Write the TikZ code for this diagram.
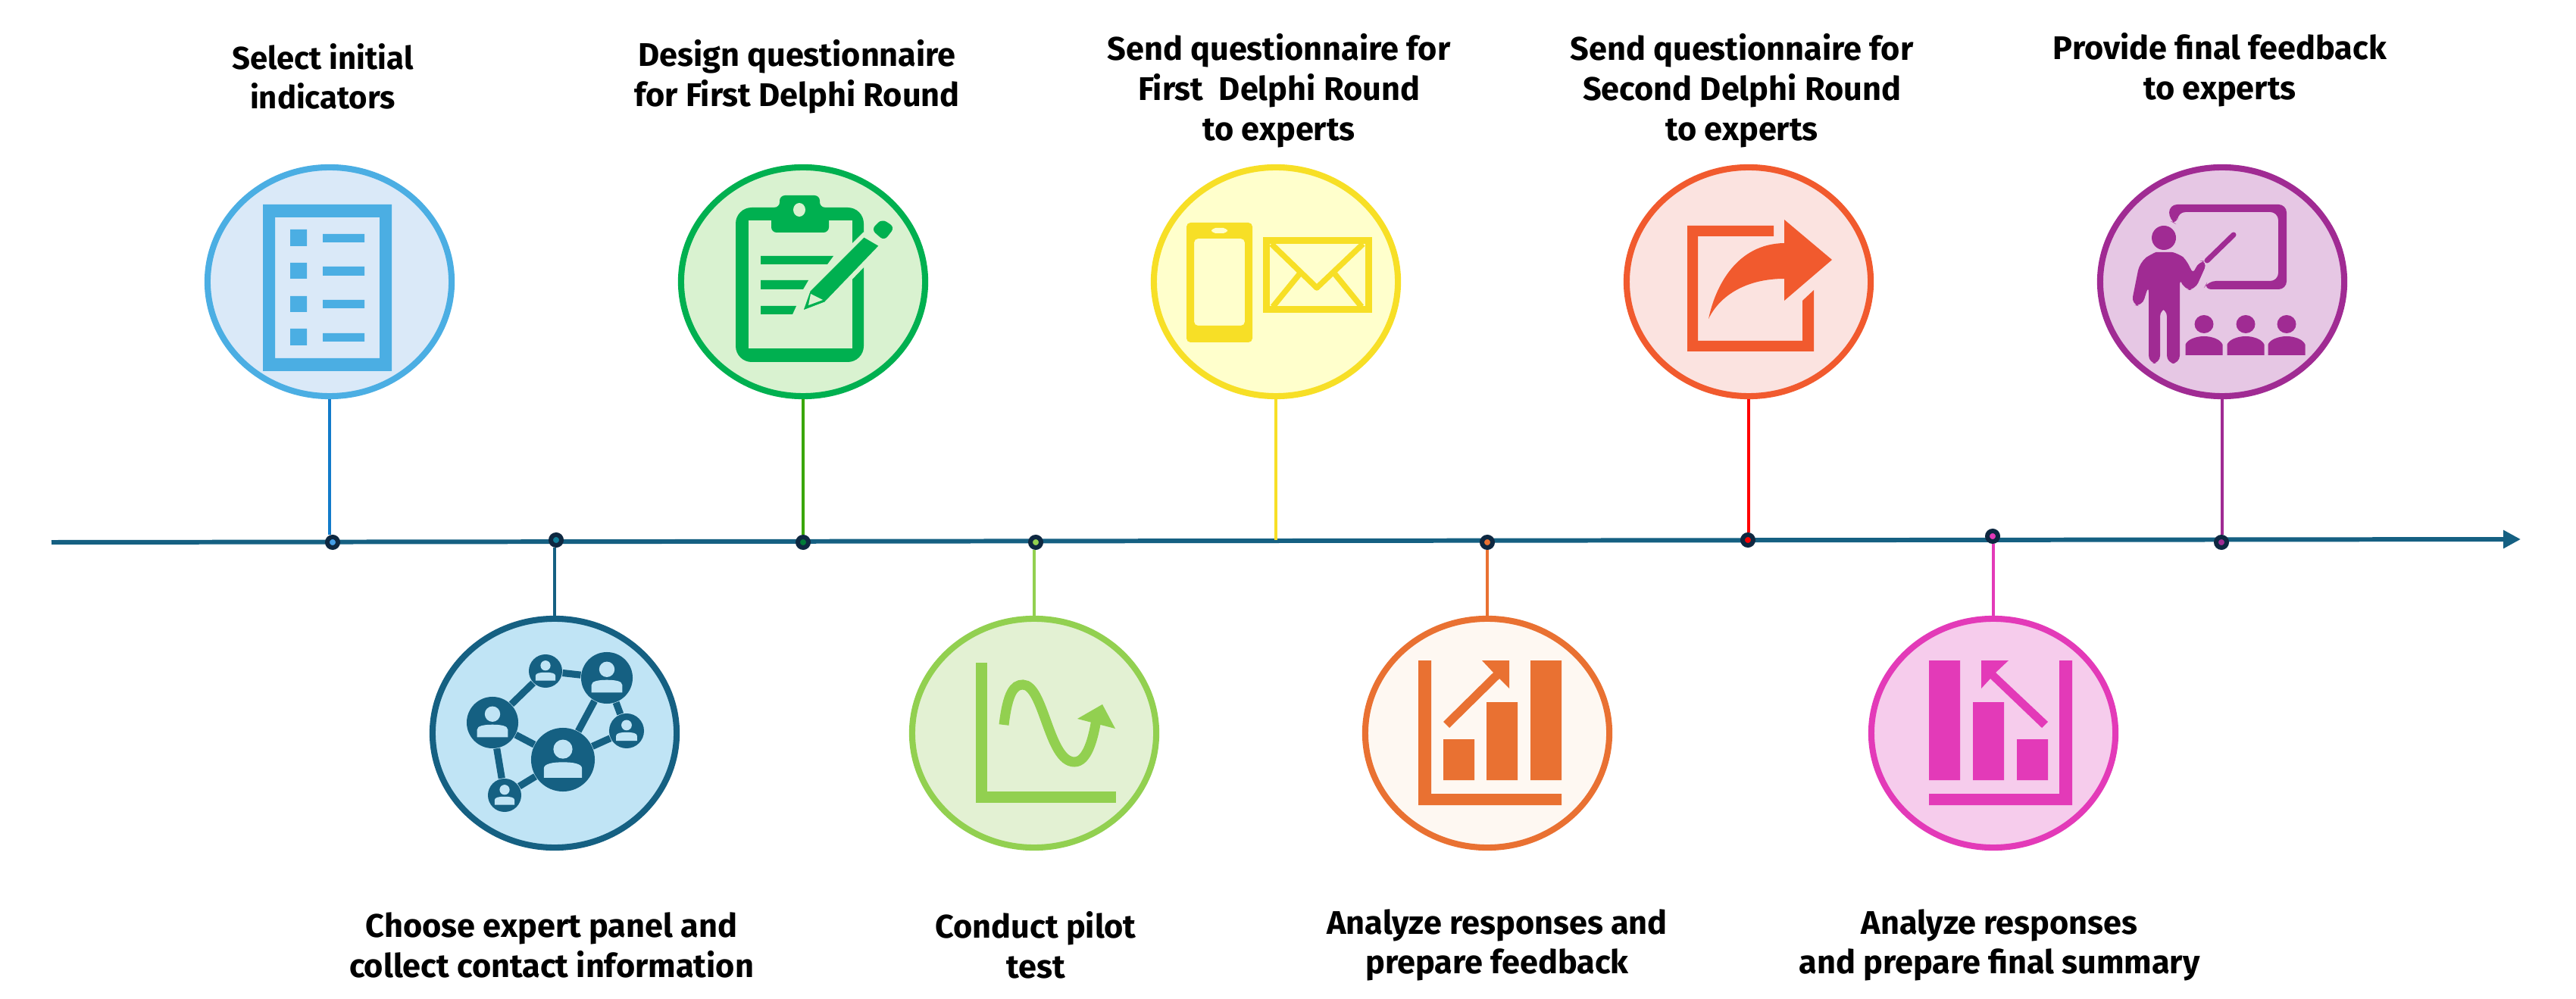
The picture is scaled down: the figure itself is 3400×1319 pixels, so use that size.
\documentclass[tikz,border=0pt]{standalone}
\usepackage{fontspec}
\setmainfont{Fira Sans}
\usetikzlibrary{shapes.geometric,arrows.meta,positioning,calc}
\definecolor{axisblue}{HTML}{156082}
\definecolor{navy}{HTML}{0E2841}
\definecolor{cA}{HTML}{4BAEE3}
\definecolor{cB}{HTML}{156082}
\definecolor{cC}{HTML}{00B050}
\definecolor{cD}{HTML}{92D050}
\definecolor{cE}{HTML}{F7DF26}
\definecolor{cF}{HTML}{E97132}
\definecolor{cG}{HTML}{F15A2E}
\definecolor{cH}{HTML}{E33AB8}
\definecolor{cI}{HTML}{A02B93}
\definecolor{bgA}{HTML}{DAE9F8}
\definecolor{bgB}{HTML}{C0E4F5}
\definecolor{bgC}{HTML}{D9F2D0}
\definecolor{bgD}{HTML}{E3F1D3}
\definecolor{bgE}{HTML}{FFFFCC}
\definecolor{bgF}{HTML}{FEF8F2}
\definecolor{bgG}{HTML}{FBE3E0}
\definecolor{bgH}{HTML}{F6CCEC}
\definecolor{bgI}{HTML}{E6C7E4}
\begin{document}
\begin{tikzpicture}[x=0.01cm, y=-0.01cm,
  stp/.style 2 args={ellipse, draw=#1, fill=#2, line width=2.3pt, minimum width=3.22cm, minimum height=3.02cm, inner sep=0pt},
  dot/.style={circle, draw=navy, fill=#1, line width=1.7pt, minimum size=0.14cm, inner sep=0pt},
  lbl/.style={align=center, font=\fontsize{12.3}{15}\selectfont\bfseries, inner sep=0pt},
  stem/.style={line width=1.35pt, #1},
  arr/.style={-{Stealth[length=2.3mm, width=2.3mm, inset=0pt]}, axisblue, line width=1.7pt},
  net/.style={circle, fill=cB, inner sep=0pt, minimum size=#1 cm},
  link/.style={cB, line width=2.6pt},
  person/.pic={
    \fill[bgB] (0,-33) circle[radius=30];
    \fill[bgB] (-60,57) -- (-60,28) .. controls (-60,12) and (-30,8) .. (0,8) .. controls (30,8) and (60,12) .. (60,28) -- (60,57) -- cycle;
  }
]
  \useasboundingbox (0,0) rectangle (3400,1319);

  \coordinate (ax0) at (68,716);
  \coordinate (ax1) at (3327,712);
  \draw[arr] (ax0) -- (ax1);

  \node[stp={cA}{bgA}] (c1) at (435,372)  {};
  \node[stp={cB}{bgB}] (c2) at (732,968)  {};
  \node[stp={cC}{bgC}] (c3) at (1060,372) {};
  \node[stp={cD}{bgD}] (c4) at (1365,968) {};
  \node[stp={cE}{bgE}] (c5) at (1684,372) {};
  \node[stp={cF}{bgF}] (c6) at (1963,968) {};
  \node[stp={cG}{bgG}] (c7) at (2308,372) {};
  \node[stp={cH}{bgH}] (c8) at (2631,968) {};
  \node[stp={cI}{bgI}] (c9) at (2933,372) {};

  \node[dot=cA!90!blue]  (d1) at (439,716)  {};
  \node[dot=cB!80!cyan]  (d2) at (734,713)  {};
  \node[dot=cC!70!black] (d3) at (1060,716) {};
  \node[dot=cD]          (d4) at (1367,716) {};
  \coordinate            (d5) at (1684,713);
  \node[dot=cF]          (d6) at (1963,716) {};
  \node[dot=red]         (d7) at (2307,713) {};
  \node[dot=cH]          (d8) at (2630,708) {};
  \node[dot=cI]          (d9) at (2932,716) {};

  \draw[stem={cyan!60!blue}]      (c1.south) -- (c1.south |- d1.north);
  \draw[stem=cB]                  (c2.north) -- (c2.north |- d2.south);
  \draw[stem={green!50!black!70!lime}] (c3.south) -- (c3.south |- d3.north);
  \draw[stem=cD]                  (c4.north) -- (c4.north |- d4.south);
  \draw[stem=cE]                  (c5.south) -- (d5);
  \draw[stem=cF]                  (c6.north) -- (c6.north |- d6.south);
  \draw[stem=red]                 (c7.south) -- (c7.south |- d7.north);
  \draw[stem=cH]                  (c8.north) -- (c8.north |- d8.south);
  \draw[stem=cI]                  (c9.south) -- (c9.south |- d9.north);

  \node[lbl, font=\fontsize{11.9}{15}\selectfont\bfseries] (t1) at (426,101) {Select initial\\indicators};
  \node[lbl] (t2) at (728,1248)  {Choose expert panel and\\collect contact information};
  \node[lbl] (t3) at (1052,101)  {Design questionnaire\\for First Delphi Round};
  \node[lbl] (t4) at (1367,1248) {Conduct pilot\\test};
  \node[lbl] (t5) at (1688,120)  {Send questionnaire for\\First\ \ Delphi Round\\to experts};
  \node[lbl] (t6) at (1976,1248) {Analyze responses and\\prepare feedback};
  \node[lbl] (t7) at (2299,120)  {Send questionnaire for\\Second Delphi Round\\to experts};
  \node[lbl] (t8) at (2639,1248) {Analyze responses\\and prepare final summary};
  \node[lbl] (t9) at (2930,92)   {Provide final feedback\\to experts};

  \fill[cA, even odd rule] (347,270) rectangle (517,490) (363,287) rectangle (501,473);
  \fill[cA] (383,303) rectangle (405,325) (426,309) rectangle (481,320);
  \fill[cA] (383,347) rectangle (405,368) (426,352) rectangle (481,364);
  \fill[cA] (383,391) rectangle (405,412) (426,396) rectangle (481,407);
  \fill[cA] (383,434) rectangle (405,456) (426,440) rectangle (481,451);

  \node[net=0.68] (na) at (650,954)  {};
  \node[net=0.44] (nb) at (720,886)  {};
  \node[net=0.68] (nc) at (801,895)  {};
  \node[net=0.46] (nd) at (827,965)  {};
  \node[net=0.84] (ne) at (743,1003) {};
  \node[net=0.44] (nf) at (666,1050) {};
  \draw[link] (na) -- (nb);
  \draw[link] (nb) -- (nc);
  \draw[link] (nc) -- (ne);
  \draw[link] (nc) -- (nd);
  \draw[link] (nd) -- (ne);
  \draw[link] (na) -- (ne);
  \draw[link] (na) -- (nf);
  \draw[link] (nf) -- (ne);
  \pic[scale=0.34] at (na) {person};
  \pic[scale=0.22] at (nb) {person};
  \pic[scale=0.34] at (nc) {person};
  \pic[scale=0.23] at (nd) {person};
  \pic[scale=0.42] at (ne) {person};
  \pic[scale=0.22] at (nf) {person};

  \fill[cC, rounded corners=6pt] (971,274) rectangle (1140,478);
  \fill[bgC] (988,291) rectangle (1125,460);
  \fill[cC, rounded corners=2pt] (1018,307) -- (1018,274) -- (1029,274) -- (1029,258) -- (1082,258) -- (1082,274) -- (1094,274) -- (1094,307) -- cycle;
  \fill[bgC] (1055,277) ellipse (8 and 9);
  \fill[cC] (1004,338) -- (1100,338) -- (1092,349) -- (1004,349) -- cycle;
  \fill[cC] (1004,370) -- (1067,370) -- (1060,382) -- (1004,382) -- cycle;
  \fill[cC] (1004,404) -- (1051,404) -- (1046,415) -- (1004,415) -- cycle;
  \filldraw[fill=cC, draw=bgC, line width=1.6pt] (1056,414) -- (1067,383) -- (1140,310) -- (1164,324) -- (1090,401) -- cycle;
  \fill[cC, rounded corners=2pt] (1150,303) -- (1164,289) -- (1181,300) -- (1167,318) -- cycle;
  \fill[bgC] (1070,388) -- (1086,396) -- (1067,403) -- cycle;

  \draw[cD, line width=0.15cm] (1295,875) -- (1295,1052) -- (1473,1052);
  \draw[cD, line width=0.13cm] (1325,957) .. controls (1330,915) and (1338,904) .. (1350,904) .. controls (1378,904) and (1384,1006) .. (1418,1006) .. controls (1435,1006) and (1443,975) .. (1447,950);
  \fill[cD] (1455,930) -- (1422,949) -- (1472,962) -- cycle;

  \fill[cE, rounded corners=1.5pt, even odd rule] (1566,294) rectangle (1653,452) (1576,315) rectangle (1643,430);
  \fill[bgE, rounded corners=1.5pt] (1599,301) rectangle (1620,308);
  \draw[cE, line width=0.09cm] (1671,318) rectangle (1806,409);
  \draw[cE, line width=0.075cm, line join=round] (1678,322) -- (1738,380) -- (1799,322);
  \draw[cE, line width=0.075cm] (1680,405) -- (1715,362);
  \draw[cE, line width=0.075cm] (1797,405) -- (1762,362);

  \fill[cF] (1872,872) -- (1889,872) -- (1889,1048) -- (2061,1048) -- (2061,1063) -- (1872,1063) -- cycle;
  \fill[cF] (1905,976) rectangle (1946,1030) (1962,927) rectangle (2003,1030) (2020,872) rectangle (2061,1030);
  \fill[cF] (1956,872) -- (1992,872) -- (1992,909) -- (1979,896) -- (1913,961) -- (1905,953) -- (1971,888) -- cycle;

  \fill[cG] (2227,298) -- (2341,298) -- (2341,312) -- (2241,312) -- (2241,450) -- (2379,450) -- (2379,397) -- (2394,383) -- (2394,464) -- (2227,464) -- cycle;
  \fill[cG] (2418,343) -- (2355,290) -- (2355,321) .. controls (2292,322) and (2264,378) .. (2255,421) .. controls (2270,390) and (2305,368) .. (2355,368) -- (2355,397) -- cycle;

  \fill[cH] (2546,1063) -- (2735,1063) -- (2735,872) -- (2718,872) -- (2718,1048) -- (2546,1048) -- cycle;
  \fill[cH] (2546,872) rectangle (2587,1030) (2604,927) rectangle (2645,1030) (2662,976) rectangle (2703,1030);
  \fill[cH] (2651,872) -- (2615,872) -- (2615,909) -- (2627,896) -- (2695,961) -- (2703,953) -- (2634,888) -- cycle;

  \fill[cI, rounded corners=3pt] (2863,291) -- (2863,270) -- (3018,270) -- (3018,382) -- (2908,382) -- (2914,371) -- (3007,371) -- (3007,280) -- (2874,280) -- (2874,297) -- cycle;
  \draw[cI, line width=0.07cm, line cap=round] (2948,310) -- (2913,344);
  \fill[cI] (2856,314) ellipse (16 and 16);
  \fill[cI, rounded corners=3pt] (2813,402) -- (2824,347) .. controls (2835,338) and (2845,333) .. (2856,333) .. controls (2870,333) and (2880,338) .. (2889,347) -- (2894,364) -- (2902,344) -- (2914,345) -- (2897,383) -- (2883,383) -- (2877,366) -- (2877,480) -- (2860,480) -- (2860,407) -- (2851,407) -- (2851,480) -- (2836,480) -- (2836,376) -- (2827,405) -- cycle;
  \foreach \px in {2909,2964,3018} {
    \fill[cI] (\px,428) ellipse (12.5 and 12);
    \fill[cI] (\px-24.5,469) -- (\px-24.5,455) .. controls (\px-22,448) and (\px-10,444) .. (\px,444) .. controls (\px+10,444) and (\px+22,448) .. (\px+24.5,455) -- (\px+24.5,469) -- cycle;
  }
\end{tikzpicture}
\end{document}
